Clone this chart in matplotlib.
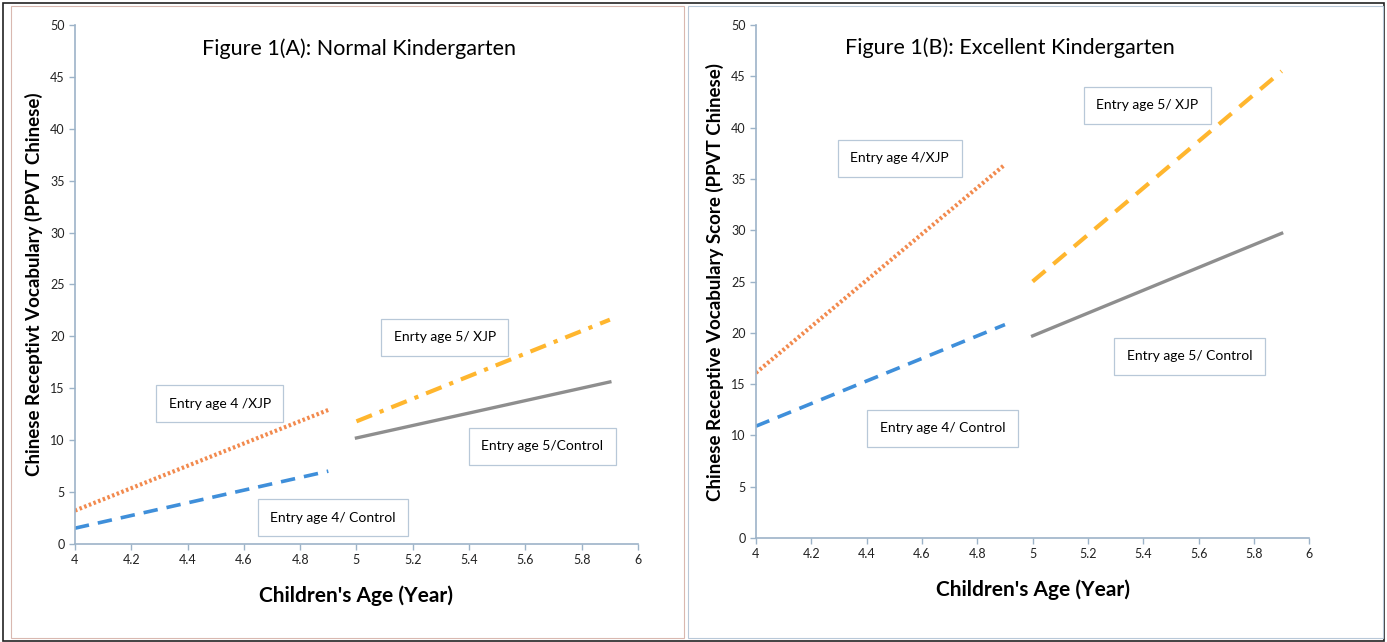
import matplotlib.pyplot as plt
from matplotlib.patches import Rectangle

plt.rcParams['font.family'] = ['Lato', 'DejaVu Sans']

# age ranges for each entry group
age_entry4 = [4.0, 4.9]
age_entry5 = [5.0, 5.9]

# Figure 1(A): Normal Kindergarten
a_entry4_xjp = [3.2, 12.9]
a_entry4_ctrl = [1.5, 7.0]
a_entry5_xjp = [11.8, 21.6]
a_entry5_ctrl = [10.2, 15.6]

# Figure 1(B): Excellent Kindergarten
b_entry4_xjp = [16.1, 36.4]
b_entry4_ctrl = [10.9, 20.8]
b_entry5_xjp = [25.0, 45.5]
b_entry5_ctrl = [19.7, 29.7]

x_ticks = [4, 4.2, 4.4, 4.6, 4.8, 5, 5.2, 5.4, 5.6, 5.8, 6]
x_tick_labels = ["4", "4.2", "4.4", "4.6", "4.8", "5", "5.2", "5.4", "5.6", "5.8", "6"]
y_ticks = [0, 5, 10, 15, 20, 25, 30, 35, 40, 45, 50]

c_orange = "#F28A4E"
c_blue = "#3F8FDA"
c_yellow = "#FFB62E"
c_gray = "#8E8E8E"
c_axis = "#9DB3C8"

fig = plt.figure(figsize=(13.87, 6.42), dpi=100)

# panel frames
fig.patches.append(Rectangle((0.002, 0.002), 0.996, 0.994, transform=fig.transFigure,
                             fill=False, edgecolor="#222222", lw=1.2))
fig.patches.append(Rectangle((0.008, 0.006), 0.485, 0.985, transform=fig.transFigure,
                             fill=False, edgecolor="#D9B8B0", lw=0.8))
fig.patches.append(Rectangle((0.496, 0.006), 0.501, 0.985, transform=fig.transFigure,
                             fill=False, edgecolor="#B8C8D8", lw=0.8))

ax1 = fig.add_axes([0.054, 0.153, 0.406, 0.808])
ax2 = fig.add_axes([0.545, 0.162, 0.399, 0.799])


def style_axes(ax, ylabel, ysize, title, tx):
    ax.set_xlim(4, 6)
    ax.set_ylim(0, 50)
    ax.set_xticks(x_ticks)
    ax.set_xticklabels(x_tick_labels)
    ax.set_yticks(y_ticks)
    for s in ["top", "right"]:
        ax.spines[s].set_visible(False)
    for s in ["left", "bottom"]:
        ax.spines[s].set_color(c_axis)
        ax.spines[s].set_linewidth(1.2)
    ax.tick_params(colors=c_axis, length=4, width=1, labelsize=9, labelcolor="#222222")
    ax.set_ylabel(ylabel, fontsize=ysize, fontweight="bold", labelpad=5)
    ax.set_xlabel("Children's Age (Year)", fontsize=15, fontweight="bold", labelpad=14)
    ax.text(tx, 0.975, title, transform=ax.transAxes, ha="center", va="top", fontsize=15.5)


def label_box(ax, x, y, s):
    ax.text(x, y, s, ha="center", va="center", fontsize=10,
            bbox=dict(boxstyle="square,pad=0.9", facecolor="white", edgecolor="#B8C8D8", lw=0.9))


# panel A
ax1.plot(age_entry4, a_entry4_xjp, color=c_orange, lw=3, linestyle=(0, (0.6, 0.6)))
ax1.plot(age_entry4, a_entry4_ctrl, color=c_blue, lw=2.6, linestyle=(0, (4, 2.5)))
ax1.plot(age_entry5, a_entry5_xjp, color=c_yellow, lw=3, linestyle=(0, (4, 2, 1, 2)))
ax1.plot(age_entry5, a_entry5_ctrl, color=c_gray, lw=2.4)
style_axes(ax1, "Chinese Receptivt Vocabulary (PPVT Chinese)", 13.5,
           "Figure 1(A): Normal Kindergarten", 0.505)
label_box(ax1, 4.515, 13.5, "Entry age 4 /XJP")
label_box(ax1, 5.314, 19.9, "Enrty age 5/ XJP")
label_box(ax1, 5.66, 9.4, "Entry age 5/Control")
label_box(ax1, 4.917, 2.5, "Entry age 4/ Control")

# panel B
ax2.plot(age_entry4, b_entry4_xjp, color=c_orange, lw=3, linestyle=(0, (0.6, 0.6)))
ax2.plot(age_entry4, b_entry4_ctrl, color=c_blue, lw=2.6, linestyle=(0, (4, 2.5)))
ax2.plot(age_entry5, b_entry5_xjp, color=c_yellow, lw=3, linestyle=(0, (4, 2.5)))
ax2.plot(age_entry5, b_entry5_ctrl, color=c_gray, lw=2.4)
style_axes(ax2, "Chinese Receptive Vocabulary Score (PPVT Chinese)", 13.5,
           "Figure 1(B): Excellent Kindergarten", 0.458)
label_box(ax2, 4.52, 37.0, "Entry age 4/XJP")
label_box(ax2, 5.415, 42.2, "Entry age 5/ XJP")
label_box(ax2, 5.567, 17.7, "Entry age 5/ Control")
label_box(ax2, 4.675, 10.7, "Entry age 4/ Control")

fig.savefig("out.png", dpi=100)
